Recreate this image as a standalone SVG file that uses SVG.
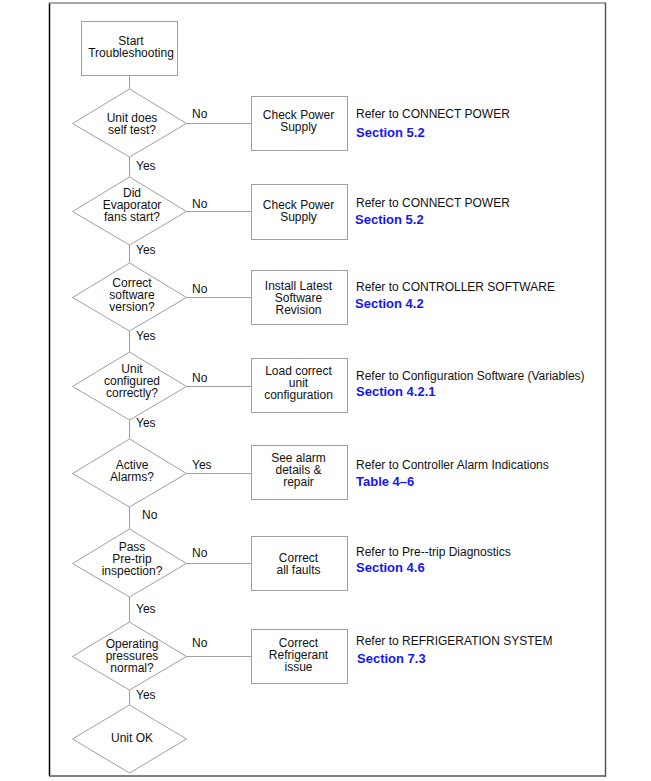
<svg xmlns="http://www.w3.org/2000/svg" width="651" height="781" viewBox="0 0 651 781">
<style>
text{font-family:"Liberation Sans",Arial,sans-serif;font-size:12px;fill:#111}
.c{text-anchor:middle}
.ref{font-size:12px;fill:#111}
.sec{font-size:13px;font-weight:bold;fill:#1616f2}
.shape{fill:#fff;stroke:#a0a0a0;stroke-width:1}
.conn line{stroke:#a0a0a0;stroke-width:1}
</style>
<rect width="651" height="781" fill="#fff"/>
<g id="frame">
<line x1="49.5" y1="3" x2="49.5" y2="776" stroke="#000" stroke-width="1.5"/>
<line x1="49" y1="3" x2="606" y2="3" stroke="#888" stroke-width="1.5"/>
<line x1="605.5" y1="3" x2="605.5" y2="776.5" stroke="#555" stroke-width="1.5"/>
<line x1="49" y1="776" x2="606" y2="776" stroke="#555" stroke-width="1.5"/>
</g>
<g class="conn" id="connectors">
<line x1="129.5" y1="75" x2="129.5" y2="89"/>
<line x1="129.5" y1="157" x2="129.5" y2="177"/>
<line x1="129.5" y1="245" x2="129.5" y2="263"/>
<line x1="129.5" y1="331" x2="129.5" y2="352"/>
<line x1="129.5" y1="420" x2="129.5" y2="439"/>
<line x1="129.5" y1="507" x2="129.5" y2="529"/>
<line x1="129.5" y1="597" x2="129.5" y2="622"/>
<line x1="129.5" y1="690" x2="129.5" y2="705"/>
<line x1="186.5" y1="123.5" x2="251" y2="123.5"/>
<line x1="186.5" y1="211.5" x2="251" y2="211.5"/>
<line x1="186.5" y1="297.5" x2="251" y2="297.5"/>
<line x1="186.5" y1="386.5" x2="251" y2="386.5"/>
<line x1="186.5" y1="473.5" x2="251" y2="473.5"/>
<line x1="186.5" y1="563.5" x2="251" y2="563.5"/>
<line x1="186.5" y1="656.5" x2="251" y2="656.5"/>
<text x="192" y="118">No</text>
<text x="136" y="170">Yes</text>
<text x="192" y="208">No</text>
<text x="136" y="254">Yes</text>
<text x="192" y="293">No</text>
<text x="136" y="340">Yes</text>
<text x="192" y="382">No</text>
<text x="136" y="427">Yes</text>
<text x="192" y="469">Yes</text>
<text x="142" y="519">No</text>
<text x="192" y="557">No</text>
<text x="136" y="613">Yes</text>
<text x="192" y="647">No</text>
<text x="136" y="699">Yes</text>
</g>
<g id="start">
<rect class="shape" x="81.5" y="21.5" width="96" height="54"/>
<text class="c" x="131" y="45">Start</text>
<text class="c" x="131" y="57">Troubleshooting</text>
</g>
<g id="d1">
<polygon class="shape" points="129.5,89 186.5,123.5 129.5,157 72.5,123.5"/>
<text class="c" x="132" y="122">Unit does</text>
<text class="c" x="132" y="134">self test?</text>
</g>
<g id="d2">
<polygon class="shape" points="129.5,177 186.5,211.5 129.5,245 72.5,211.5"/>
<text class="c" x="132" y="197">Did</text>
<text class="c" x="132" y="209">Evaporator</text>
<text class="c" x="132" y="221">fans  start?</text>
</g>
<g id="d3">
<polygon class="shape" points="129.5,263 186.5,297.5 129.5,331 72.5,297.5"/>
<text class="c" x="132" y="287">Correct</text>
<text class="c" x="132" y="299">software</text>
<text class="c" x="132" y="311">version?</text>
</g>
<g id="d4">
<polygon class="shape" points="129.5,352 186.5,386.5 129.5,420 72.5,386.5"/>
<text class="c" x="132" y="373">Unit</text>
<text class="c" x="132" y="385">configured</text>
<text class="c" x="132" y="397">correctly?</text>
</g>
<g id="d5">
<polygon class="shape" points="129.5,439 186.5,473.5 129.5,507 72.5,473.5"/>
<text class="c" x="132" y="469">Active</text>
<text class="c" x="132" y="481">Alarms?</text>
</g>
<g id="d6">
<polygon class="shape" points="129.5,529 186.5,563.5 129.5,597 72.5,563.5"/>
<text class="c" x="132" y="551">Pass</text>
<text class="c" x="132" y="563">Pre-trip</text>
<text class="c" x="132" y="575">inspection?</text>
</g>
<g id="d7">
<polygon class="shape" points="129.5,622 186.5,656.5 129.5,690 72.5,656.5"/>
<text class="c" x="132" y="648">Operating</text>
<text class="c" x="132" y="660">pressures</text>
<text class="c" x="132" y="672">normal?</text>
</g>
<g id="d8">
<polygon class="shape" points="129.5,705 186.5,739 129.5,773 72.5,739"/>
<text class="c" x="132" y="742">Unit OK</text>
</g>
<g id="b1">
<rect class="shape" x="251.5" y="96.5" width="96" height="54"/>
<text class="c" x="298.5" y="119">Check Power</text>
<text class="c" x="298.5" y="131">Supply</text>
</g>
<g id="b2">
<rect class="shape" x="251.5" y="184.5" width="96" height="55"/>
<text class="c" x="298.5" y="209">Check Power</text>
<text class="c" x="298.5" y="221">Supply</text>
</g>
<g id="b3">
<rect class="shape" x="251.5" y="270.5" width="96" height="54"/>
<text class="c" x="298.5" y="290">Install Latest</text>
<text class="c" x="298.5" y="302">Software</text>
<text class="c" x="298.5" y="314">Revision</text>
</g>
<g id="b4">
<rect class="shape" x="251.5" y="358.5" width="96" height="54"/>
<text class="c" x="298.5" y="375">Load correct</text>
<text class="c" x="298.5" y="387">unit</text>
<text class="c" x="298.5" y="399">configuration</text>
</g>
<g id="b5">
<rect class="shape" x="251.5" y="445.5" width="96" height="54"/>
<text class="c" x="298.5" y="462">See alarm</text>
<text class="c" x="298.5" y="474">details &amp;</text>
<text class="c" x="298.5" y="486">repair</text>
</g>
<g id="b6">
<rect class="shape" x="251.5" y="536.5" width="96" height="54"/>
<text class="c" x="298.5" y="562">Correct</text>
<text class="c" x="298.5" y="574">all faults</text>
</g>
<g id="b7">
<rect class="shape" x="251.5" y="629.5" width="96" height="54"/>
<text class="c" x="298.5" y="647">Correct</text>
<text class="c" x="298.5" y="659">Refrigerant</text>
<text class="c" x="298.5" y="671">issue</text>
</g>
<g id="refs">
<text class="ref" x="356" y="118">Refer to CONNECT POWER</text>
<text class="sec" x="356" y="137">Section 5.2</text>
<text class="ref" x="356" y="207">Refer to CONNECT POWER</text>
<text class="sec" x="355" y="224">Section 5.2</text>
<text class="ref" x="356" y="291">Refer to CONTROLLER SOFTWARE</text>
<text class="sec" x="355" y="308">Section 4.2</text>
<text class="ref" x="356" y="380">Refer to Configuration Software (Variables)</text>
<text class="sec" x="356" y="396">Section 4.2.1</text>
<text class="ref" x="356" y="469">Refer to Controller Alarm Indications</text>
<text class="sec" x="356" y="486">Table 4–6</text>
<text class="ref" x="356" y="556">Refer to Pre--trip Diagnostics</text>
<text class="sec" x="356" y="572">Section 4.6</text>
<text class="ref" x="356" y="645">Refer to REFRIGERATION SYSTEM</text>
<text class="sec" x="357" y="663">Section 7.3</text>
</g>
</svg>
